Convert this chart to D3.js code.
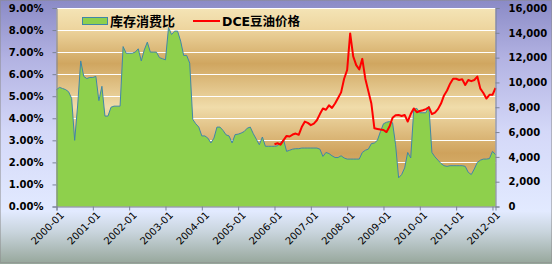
<!DOCTYPE html>
<html>
<head>
<meta charset="utf-8">
<script src="https://cdn.jsdelivr.net/npm/d3@7"></script>
<style>
  body { margin: 0; background: #fff; }
  svg { display: block; }
  text { font-family: "DejaVu Sans", "Noto Sans CJK SC", sans-serif; }
</style>
</head>
<body>
<svg id="chart" width="552" height="264"></svg>
<script>
// monthly categories, 2000-01 .. 2012-02
var months = d3.timeMonth.range(new Date(2000, 0, 1), new Date(2012, 2, 1)).map(d3.timeFormat("%Y-%m"));

// 库存消费比 (%), one value per month
var ratio = [
  5.3, 5.4, 5.35, 5.3, 5.2, 4.9, 3.0, 4.6, 6.6, 5.9, 5.8, 5.85,
  5.85, 5.9, 4.8, 5.45, 4.1, 4.1, 4.5, 4.55, 4.55, 4.55, 7.25, 6.95,
  6.95, 6.95, 7.0, 7.15, 6.6, 7.1, 7.45, 7.0, 7.0, 7.0, 6.75, 6.7,
  6.65, 8.12, 7.8, 7.95, 7.95, 7.5, 6.85, 6.85, 6.5, 3.95, 3.75, 3.6,
  3.2, 3.2, 3.1, 2.88, 3.1, 3.6, 3.6, 3.45, 3.25, 3.2, 2.88, 3.26,
  3.28, 3.33, 3.4, 3.55, 3.6, 3.3, 3.05, 2.8, 3.15, 2.73, 2.73, 2.73,
  2.73, 2.75, 2.9, 3.03, 2.5, 2.55, 2.6, 2.62, 2.62, 2.65, 2.65, 2.65,
  2.65, 2.65, 2.65, 2.6, 2.27, 2.45, 2.4, 2.3, 2.22, 2.22, 2.3, 2.2,
  2.15, 2.15, 2.15, 2.15, 2.15, 2.45, 2.55, 2.6, 2.85, 2.88, 3.0, 3.4,
  3.75, 3.82, 3.85, 3.8, 2.8, 1.3, 1.45, 1.75, 2.45, 2.2, 4.4, 4.45,
  4.25, 4.25, 4.25, 4.55, 2.45, 2.25, 2.1, 1.95, 1.85, 1.82, 1.85, 1.85,
  1.85, 1.85, 1.85, 1.82, 1.55, 1.45, 1.7, 2.0, 2.1, 2.15, 2.15, 2.17,
  2.5, 2.35
];

// DCE豆油价格, monthly from 2006-01
var priceStart = "2006-01";
var price = [
  5020, 5100, 4980, 5350, 5690, 5640, 5800, 5880, 5780, 6400, 6840, 6740,
  6560, 6680, 6950, 7450, 7900, 7800, 8150, 7950, 8300, 8750, 9200, 10300,
  11000, 13950, 12100, 11400, 11050, 11900, 10300, 9300, 8300, 6300, 6250, 6200,
  6170, 6000, 6450, 7150, 7350, 7380, 7300, 7380, 6850, 7450, 7900, 7600,
  7700, 7760, 7850, 8000, 7450, 7570, 7850, 8300, 8950, 9350, 9900, 10300,
  10300, 10200, 10250, 9800, 10200, 10100, 10200, 10470, 9500, 9150, 8700, 9000,
  9000, 9550
];

var leftTicks = [0, 1, 2, 3, 4, 5, 6, 7, 8, 9];
var rightTicks = [0, 2000, 4000, 6000, 8000, 10000, 12000, 14000, 16000];
var xTickLabels = ["2000-01", "2001-01", "2002-01", "2003-01", "2004-01", "2005-01", "2006-01",
  "2007-01", "2008-01", "2009-01", "2010-01", "2011-01", "2012-01"];

var legendNames = ["库存消费比", "DCE豆油价格"];

var svg = d3.select("#chart");
var W = 552, H = 264;
var plot = { left: 56.5, right: 495.5, top: 8, bottom: 206.5 };

var defs = svg.append("defs");
var bg = defs.append("linearGradient").attr("id", "bg").attr("x1", 0).attr("y1", 0).attr("x2", 0).attr("y2", 1);
[[0, "#8a8ac6"], [0.22, "#b2b2e2"], [0.5, "#d4d8f8"], [0.8, "#e2eaff"], [0.88, "#c8d4dc"], [1, "#96a69a"]]
  .forEach(function (s) { bg.append("stop").attr("offset", s[0]).attr("stop-color", s[1]); });

var pg = defs.append("linearGradient").attr("id", "pg").attr("x1", 0).attr("y1", 0).attr("x2", 0).attr("y2", 1);
[[0, "#f4e4b6"], [0.1, "#eed6a0"], [0.28, "#d0a660"], [0.5, "#f0dcaa"], [0.73, "#cfa25c"], [1, "#e6c888"]]
  .forEach(function (s) { pg.append("stop").attr("offset", s[0]).attr("stop-color", s[1]); });

svg.append("rect").attr("width", W).attr("height", H).attr("fill", "url(#bg)");
svg.append("rect").attr("x", 0.5).attr("y", 0.5).attr("width", W - 1).attr("height", H - 2)
  .attr("fill", "none").attr("stroke", "#8a8a8a").attr("stroke-dasharray", "1,1");

svg.append("rect")
  .attr("x", plot.left).attr("y", plot.top)
  .attr("width", plot.right - plot.left).attr("height", plot.bottom - plot.top)
  .attr("fill", "url(#pg)");

var x = d3.scalePoint().domain(months).range([plot.left, plot.right]);
var yL = d3.scaleLinear().domain([0, 9]).range([plot.bottom, plot.top]);
var yR = d3.scaleLinear().domain([0, 16000]).range([plot.bottom, plot.top]);

// gridlines
svg.append("g").selectAll("line")
  .data(leftTicks.slice(1))
  .enter().append("line")
  .attr("x1", plot.left).attr("x2", plot.right)
  .attr("y1", function (d) { return Math.round(yL(d)) + 0.5; })
  .attr("y2", function (d) { return Math.round(yL(d)) + 0.5; })
  .attr("stroke", "#ffffff").attr("stroke-width", 1.2);

// area
var area = d3.area()
  .x(function (d, i) { return x(months[i]); })
  .y0(plot.bottom)
  .y1(function (d) { return yL(d); });

svg.append("path").datum(ratio)
  .attr("d", area)
  .attr("fill", "#8ed04c");

svg.append("path").datum(ratio)
  .attr("d", d3.line().x(function (d, i) { return x(months[i]); }).y(function (d) { return yL(d); }))
  .attr("fill", "none").attr("stroke", "#3f86a8").attr("stroke-width", 1);

// price line
var p0 = months.indexOf(priceStart);
svg.append("path").datum(price)
  .attr("d", d3.line().x(function (d, i) { return x(months[p0 + i]); }).y(function (d) { return yR(d); }))
  .attr("fill", "none").attr("stroke", "#ff0000").attr("stroke-width", 2).attr("stroke-linejoin", "round");

// axes
var axL = svg.append("g").attr("transform", "translate(" + plot.left + ",0)")
  .call(d3.axisLeft(yL).tickValues(leftTicks).tickSize(4).tickPadding(9)
    .tickFormat(function (d) { return d.toFixed(2) + "%"; }));
var axR = svg.append("g").attr("transform", "translate(" + plot.right + ",0)")
  .call(d3.axisRight(yR).tickValues(rightTicks).tickSize(4).tickPadding(9));
var axB = svg.append("g").attr("transform", "translate(0," + plot.bottom + ")")
  .call(d3.axisBottom(x).tickValues(xTickLabels).tickSize(4).tickPadding(3));

[axL, axR, axB].forEach(function (a) {
  a.select(".domain").attr("stroke", "#7a8296");
  a.selectAll(".tick line").attr("stroke", "#7a8296");
});
axL.selectAll("text").attr("font-size", 10).attr("font-weight", "bold").attr("fill", "#000");
axR.selectAll("text").attr("font-size", 10).attr("font-weight", "bold").attr("fill", "#000");
axB.selectAll("text")
  .attr("font-size", 10).attr("fill", "#000")
  .attr("text-anchor", "end")
  .attr("dx", "-0.1em").attr("dy", "0.5em")
  .attr("transform", "rotate(-45)");
svg.selectAll(".tick text").style("font-family", '"DejaVu Sans", sans-serif');

// legend
var lg = svg.append("g").attr("font-size", 13).attr("font-weight", "bold");
lg.append("rect").attr("x", 82.5).attr("y", 17.5).attr("width", 25).attr("height", 7)
  .attr("fill", "#8ed04c").attr("stroke", "#3f86a8");
lg.append("text").attr("x", 110).attr("y", 25.5).text(legendNames[0]);
lg.append("line").attr("x1", 193).attr("x2", 220).attr("y1", 21).attr("y2", 21)
  .attr("stroke", "#ff0000").attr("stroke-width", 2);
lg.append("text").attr("x", 222).attr("y", 25.5).attr("font-size", 12.5).text(legendNames[1]);
</script>
</body>
</html>
